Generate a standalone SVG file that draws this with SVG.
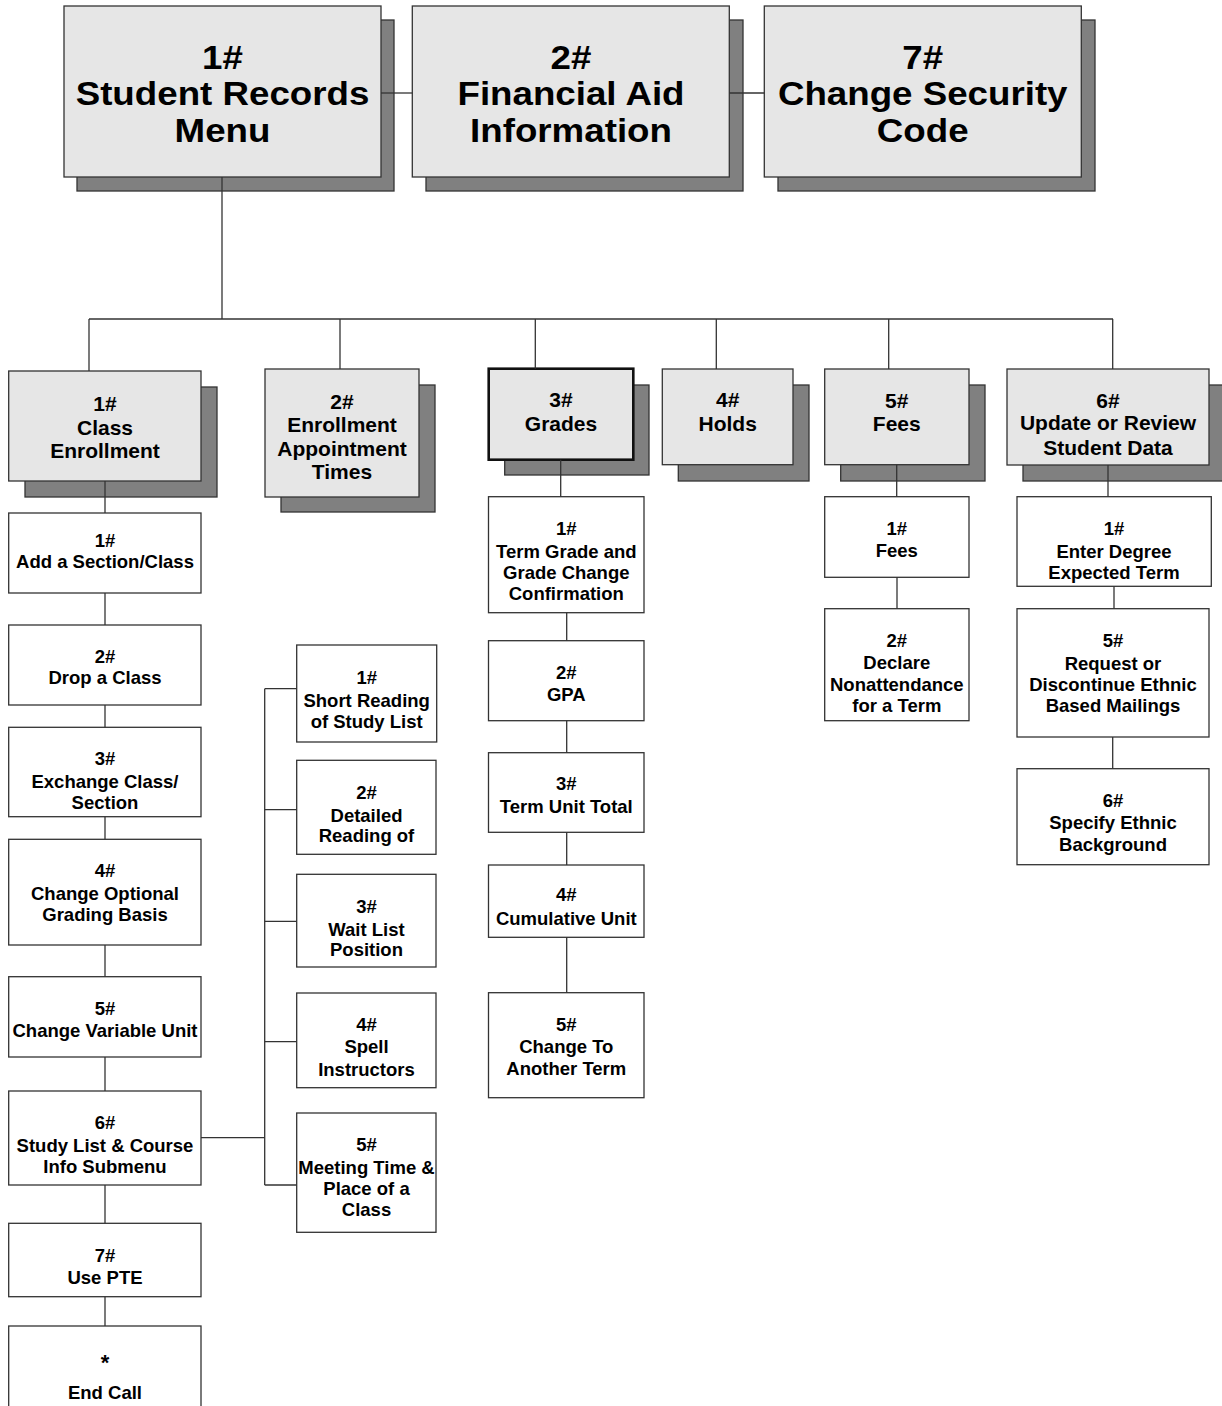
<svg xmlns="http://www.w3.org/2000/svg" width="1222" height="1406" viewBox="0 0 1222 1406">
<style>
.box{fill:#ffffff;stroke:#333333;stroke-width:1.3}
.gbox{fill:#e6e6e6;stroke:#333333;stroke-width:1.3}
.sel{fill:#e6e6e6;stroke:#111111;stroke-width:2.6}
.sh{fill:#808080;stroke:#333333;stroke-width:1.3}
.t{font-family:"Liberation Sans",Arial,Helvetica,sans-serif;font-weight:bold;text-anchor:middle;fill:#000000}
.big{font-size:32.5px}
.mid{font-size:21px}
.sm{font-size:18.5px}
.ast{font-size:22px}
.ln{stroke:#333333;stroke-width:1.3;fill:none}
</style>
<rect width="1222" height="1406" fill="#ffffff"/>

<g id="n-student-records">
<rect class="sh" x="77" y="20" width="317" height="171"/>
<rect class="gbox" x="64" y="6" width="317" height="171"/>
<g transform="translate(222.5,0) scale(1.13,1)">
<text class="t big" x="0" y="69">1#</text>
<text class="t big" x="0" y="105.5">Student Records</text>
<text class="t big" x="0" y="142">Menu</text>
</g>
</g>
<g id="n-financial-aid">
<rect class="sh" x="426" y="20" width="317" height="171"/>
<rect class="gbox" x="412.3" y="6" width="317" height="171"/>
<g transform="translate(571,0) scale(1.13,1)">
<text class="t big" x="0" y="69">2#</text>
<text class="t big" x="0" y="105.5">Financial Aid</text>
<text class="t big" x="0" y="142">Information</text>
</g>
</g>
<g id="n-security-code">
<rect class="sh" x="778" y="20" width="317" height="171"/>
<rect class="gbox" x="764.3" y="6" width="317" height="171"/>
<g transform="translate(922.7,0) scale(1.13,1)">
<text class="t big" x="0" y="69">7#</text>
<text class="t big" x="0" y="105.5">Change Security</text>
<text class="t big" x="0" y="142">Code</text>
</g>
</g>

<g id="n-class-enrollment">
<rect class="sh" x="25" y="387" width="192" height="110"/>
<rect class="gbox" x="8.7" y="371" width="192.3" height="110"/>
<text class="t mid" x="105" y="411">1#</text>
<text class="t mid" x="105" y="434.5">Class</text>
<text class="t mid" x="105" y="458.3">Enrollment</text>
</g>
<g id="n-appointment">
<rect class="sh" x="281" y="385" width="154" height="127"/>
<rect class="gbox" x="265" y="369" width="154" height="128"/>
<text class="t mid" x="342" y="408.7">2#</text>
<text class="t mid" x="342" y="432.3">Enrollment</text>
<text class="t mid" x="342" y="455.5">Appointment</text>
<text class="t mid" x="342" y="478.5">Times</text>
</g>
<g id="n-grades">
<rect class="sh" x="504.7" y="385" width="144.3" height="90"/>
<rect class="sel" x="488.7" y="368.7" width="144.6" height="91"/>
<text class="t mid" x="561" y="407.3">3#</text>
<text class="t mid" x="561" y="430.7">Grades</text>
</g>
<g id="n-holds">
<rect class="sh" x="678.3" y="385" width="130.7" height="96"/>
<rect class="gbox" x="662.3" y="369" width="130.7" height="95.7"/>
<text class="t mid" x="727.7" y="407.3">4#</text>
<text class="t mid" x="727.7" y="430.7">Holds</text>
</g>
<g id="n-fees">
<rect class="sh" x="840.7" y="385" width="144.3" height="96"/>
<rect class="gbox" x="824.7" y="369" width="144.3" height="95.7"/>
<text class="t mid" x="896.8" y="407.5">5#</text>
<text class="t mid" x="896.8" y="430.5">Fees</text>
</g>
<g id="n-update">
<rect class="sh" x="1023" y="385" width="202" height="96"/>
<rect class="gbox" x="1007" y="369" width="202" height="96"/>
<text class="t mid" x="1108" y="407.7">6#</text>
<text class="t mid" x="1108" y="430">Update or Review</text>
<text class="t mid" x="1108" y="455">Student Data</text>
</g>

<g id="n-ce-1">
<rect class="box" x="8.7" y="513" width="192.3" height="80"/>
<text class="t sm" x="105" y="546.7">1#</text>
<text class="t sm" x="105" y="568.3">Add a Section/Class</text>
</g>
<g id="n-ce-2">
<rect class="box" x="8.7" y="625" width="192.3" height="80"/>
<text class="t sm" x="105" y="662.7">2#</text>
<text class="t sm" x="105" y="684.3">Drop a Class</text>
</g>
<g id="n-ce-3">
<rect class="box" x="8.7" y="727.3" width="192.3" height="89.4"/>
<text class="t sm" x="105" y="765">3#</text>
<text class="t sm" x="105" y="788.3">Exchange Class/</text>
<text class="t sm" x="105" y="809.3">Section</text>
</g>
<g id="n-ce-4">
<rect class="box" x="8.7" y="839.3" width="192.3" height="105.7"/>
<text class="t sm" x="105" y="876.7">4#</text>
<text class="t sm" x="105" y="900">Change Optional</text>
<text class="t sm" x="105" y="920.7">Grading Basis</text>
</g>
<g id="n-ce-5">
<rect class="box" x="8.7" y="976.7" width="192.3" height="80.3"/>
<text class="t sm" x="105" y="1015">5#</text>
<text class="t sm" x="105" y="1036.7">Change Variable Unit</text>
</g>
<g id="n-ce-6">
<rect class="box" x="8.7" y="1091" width="192.3" height="94"/>
<text class="t sm" x="105" y="1129">6#</text>
<text class="t sm" x="105" y="1152.3">Study List &amp; Course</text>
<text class="t sm" x="105" y="1172.7">Info Submenu</text>
</g>
<g id="n-ce-7">
<rect class="box" x="8.7" y="1223.3" width="192.3" height="73.4"/>
<text class="t sm" x="105" y="1261.7">7#</text>
<text class="t sm" x="105" y="1284">Use PTE</text>
</g>
<g id="n-ce-end">
<rect class="box" x="8.7" y="1326" width="192.3" height="100"/>
<text class="t ast" x="105" y="1370">*</text>
<text class="t sm" x="105" y="1399">End Call</text>
</g>

<g id="n-sl-1">
<rect class="box" x="296.7" y="645" width="140" height="97"/>
<text class="t sm" x="366.7" y="684">1#</text>
<text class="t sm" x="366.7" y="706.7">Short Reading</text>
<text class="t sm" x="366.7" y="727.7">of Study List</text>
</g>
<g id="n-sl-2">
<rect class="box" x="296.7" y="760.3" width="139.3" height="94"/>
<text class="t sm" x="366.5" y="799">2#</text>
<text class="t sm" x="366.5" y="821.7">Detailed</text>
<text class="t sm" x="366.5" y="842.3">Reading of</text>
</g>
<g id="n-sl-3">
<rect class="box" x="296.7" y="874.3" width="139.3" height="92.7"/>
<text class="t sm" x="366.5" y="912.7">3#</text>
<text class="t sm" x="366.5" y="936">Wait List</text>
<text class="t sm" x="366.5" y="956">Position</text>
</g>
<g id="n-sl-4">
<rect class="box" x="296.7" y="993" width="139.3" height="94.7"/>
<text class="t sm" x="366.5" y="1031">4#</text>
<text class="t sm" x="366.5" y="1053.3">Spell</text>
<text class="t sm" x="366.5" y="1075.7">Instructors</text>
</g>
<g id="n-sl-5">
<rect class="box" x="296.7" y="1113" width="139.3" height="119.3"/>
<text class="t sm" x="366.5" y="1151">5#</text>
<text class="t sm" x="366.5" y="1174">Meeting Time &amp;</text>
<text class="t sm" x="366.5" y="1194.7">Place of a</text>
<text class="t sm" x="366.5" y="1215.7">Class</text>
</g>

<g id="n-gr-1">
<rect class="box" x="488.5" y="496.7" width="155.5" height="116"/>
<text class="t sm" x="566.3" y="535">1#</text>
<text class="t sm" x="566.3" y="557.7">Term Grade and</text>
<text class="t sm" x="566.3" y="579.3">Grade Change</text>
<text class="t sm" x="566.3" y="600">Confirmation</text>
</g>
<g id="n-gr-2">
<rect class="box" x="488.5" y="640.7" width="155.5" height="80"/>
<text class="t sm" x="566.3" y="679.3">2#</text>
<text class="t sm" x="566.3" y="701">GPA</text>
</g>
<g id="n-gr-3">
<rect class="box" x="488.5" y="752.7" width="155.5" height="79.6"/>
<text class="t sm" x="566.3" y="790">3#</text>
<text class="t sm" x="566.3" y="812.5">Term Unit Total</text>
</g>
<g id="n-gr-4">
<rect class="box" x="488.5" y="865" width="155.5" height="72.3"/>
<text class="t sm" x="566.3" y="901">4#</text>
<text class="t sm" x="566.3" y="925">Cumulative Unit</text>
</g>
<g id="n-gr-5">
<rect class="box" x="488.5" y="992.7" width="155.5" height="105"/>
<text class="t sm" x="566.3" y="1031">5#</text>
<text class="t sm" x="566.3" y="1053.3">Change To</text>
<text class="t sm" x="566.3" y="1075">Another Term</text>
</g>

<g id="n-fe-1">
<rect class="box" x="824.7" y="496.7" width="144.3" height="80.6"/>
<text class="t sm" x="896.8" y="535">1#</text>
<text class="t sm" x="896.8" y="557.3">Fees</text>
</g>
<g id="n-fe-2">
<rect class="box" x="824.7" y="608.7" width="144.3" height="112"/>
<text class="t sm" x="896.8" y="646.7">2#</text>
<text class="t sm" x="896.8" y="669.3">Declare</text>
<text class="t sm" x="896.8" y="691">Nonattendance</text>
<text class="t sm" x="896.8" y="711.7">for a Term</text>
</g>

<g id="n-up-1">
<rect class="box" x="1017" y="496.7" width="194.3" height="89.6"/>
<text class="t sm" x="1114" y="535">1#</text>
<text class="t sm" x="1114" y="557.7">Enter Degree</text>
<text class="t sm" x="1114" y="579.3">Expected Term</text>
</g>
<g id="n-up-5">
<rect class="box" x="1017" y="608.7" width="192" height="128.3"/>
<text class="t sm" x="1113" y="646.7">5#</text>
<text class="t sm" x="1113" y="670">Request or</text>
<text class="t sm" x="1113" y="691">Discontinue Ethnic</text>
<text class="t sm" x="1113" y="711.7">Based Mailings</text>
</g>
<g id="n-up-6">
<rect class="box" x="1017" y="768.7" width="192" height="96"/>
<text class="t sm" x="1113" y="806.7">6#</text>
<text class="t sm" x="1113" y="829.3">Specify Ethnic</text>
<text class="t sm" x="1113" y="851">Background</text>
</g>

<g id="connectors" class="ln">
<line x1="381" y1="93" x2="412.3" y2="93"/>
<line x1="729.3" y1="93" x2="764.3" y2="93"/>
<line x1="222" y1="177" x2="222" y2="319"/>
<line x1="89" y1="319" x2="1113" y2="319"/>
<line x1="89" y1="319" x2="89" y2="371"/>
<line x1="340" y1="319" x2="340" y2="369"/>
<line x1="535.3" y1="319" x2="535.3" y2="368.7"/>
<line x1="716.3" y1="319" x2="716.3" y2="369"/>
<line x1="888.7" y1="319" x2="888.7" y2="369"/>
<line x1="1112.7" y1="319" x2="1112.7" y2="369"/>

<line x1="105" y1="481" x2="105" y2="513"/>
<line x1="105" y1="593" x2="105" y2="625"/>
<line x1="105" y1="705" x2="105" y2="727.3"/>
<line x1="105" y1="816.7" x2="105" y2="839.3"/>
<line x1="105" y1="945" x2="105" y2="976.7"/>
<line x1="105" y1="1057" x2="105" y2="1091"/>
<line x1="105" y1="1185" x2="105" y2="1223.3"/>
<line x1="105" y1="1296.7" x2="105" y2="1326"/>

<line x1="201" y1="1137.7" x2="264.7" y2="1137.7"/>
<line x1="264.7" y1="688.7" x2="264.7" y2="1185"/>
<line x1="264.7" y1="688.7" x2="296.7" y2="688.7"/>
<line x1="264.7" y1="809.7" x2="296.7" y2="809.7"/>
<line x1="264.7" y1="921.3" x2="296.7" y2="921.3"/>
<line x1="264.7" y1="1041.7" x2="296.7" y2="1041.7"/>
<line x1="264.7" y1="1185" x2="296.7" y2="1185"/>

<line x1="560.7" y1="459.7" x2="560.7" y2="496.7"/>
<line x1="566.7" y1="612.7" x2="566.7" y2="640.7"/>
<line x1="566.7" y1="720.7" x2="566.7" y2="752.7"/>
<line x1="566.7" y1="832.3" x2="566.7" y2="865"/>
<line x1="566.7" y1="937.3" x2="566.7" y2="992.7"/>

<line x1="896.7" y1="464.7" x2="896.7" y2="496.7"/>
<line x1="897" y1="577.3" x2="897" y2="608.7"/>

<line x1="1108" y1="465" x2="1108" y2="496.7"/>
<line x1="1114" y1="586.3" x2="1114" y2="608.7"/>
<line x1="1112.7" y1="737" x2="1112.7" y2="768.7"/>
</g>
</svg>
